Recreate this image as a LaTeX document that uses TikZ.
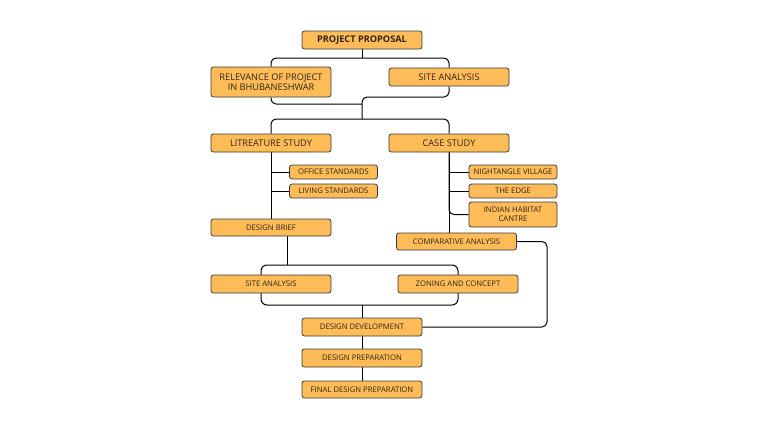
\documentclass[tikz,border=0pt]{standalone}
\usepackage{fontspec}
\setmainfont{Open Sans}
\usepackage{xcolor}
\usetikzlibrary{backgrounds}
\definecolor{boxfill}{HTML}{FEBC59}
\definecolor{boxline}{HTML}{3A3A3A}
\definecolor{boxtext}{HTML}{2E2618}
\newcommand\smalltext{\fontsize{7.7}{8.6}\selectfont}
\tikzset{
  stagebox/.style={rounded corners=2.5pt, draw=boxline, line width=0.8pt, fill=boxfill,
    text=boxtext, minimum width=120pt, minimum height=18pt, inner sep=1pt,
    align=center, font=\fontsize{9.2}{10.2}\selectfont},
  smallbox/.style={stagebox, font=\smalltext},
  subbox/.style={smallbox, minimum width=88pt, minimum height=14pt},
  link/.style={draw=black, line width=1pt, rounded corners=5pt}
}
\begin{document}
\begin{tikzpicture}[x=1pt, y=-1pt]
  \useasboundingbox (0,0) rectangle (768,431);

  % stages
  \node[stagebox, font=\fontsize{9.2}{10.2}\selectfont\bfseries] (proposal) at (362,40) {PROJECT PROPOSAL};
  \node[stagebox, minimum height=30pt] (relevance) at (271,82) {RELEVANCE OF PROJECT\\IN BHUBANESHWAR};
  \node[stagebox] (siteone) at (449,77) {SITE ANALYSIS};
  \node[stagebox] (literature) at (271,143) {LITREATURE STUDY};
  \node[stagebox] (casestudy) at (449,143) {CASE STUDY};

  \node[subbox] (office) at (333.5,172) {OFFICE STANDARDS};
  \node[subbox] (living) at (333.5,191) {LIVING STANDARDS};
  \node[subbox] (nightangle) at (513,172) {NIGHTANGLE VILLAGE};
  \node[subbox] (edge) at (513,191) {THE EDGE};
  \node[subbox, minimum height=25pt] (habitat) at (513,214.5) {INDIAN HABITAT\\CANTRE};

  \node[smallbox, minimum height=17pt] (brief) at (271,227.5) {DESIGN BRIEF};
  \node[smallbox, minimum height=17pt] (comparative) at (456.5,241.5) {COMPARATIVE ANALYSIS};
  \node[smallbox] (sitetwo) at (271,284) {SITE ANALYSIS};
  \node[smallbox] (zoning) at (458,284) {ZONING AND CONCEPT};
  \node[smallbox] (development) at (362,327) {DESIGN DEVELOPMENT};
  \node[smallbox] (preparation) at (362,358) {DESIGN PREPARATION};
  \node[smallbox, minimum height=17pt] (final) at (362,389.5) {FINAL DESIGN PREPARATION};

  % junctions
  \coordinate (splitone) at (362,58);
  \coordinate (joinleft) at (362,104);
  \coordinate (joinright) at (362,97);
  \coordinate (splittwo) at (362,119);
  \coordinate (briefdrop) at (287,265);
  \coordinate (bracketnw) at (261,265);
  \coordinate (bracketse) at (458,305);
  \coordinate (loopcorner) at (547,327);

  \begin{scope}[on background layer]
    \draw[link, rounded corners=6pt] (bracketnw) rectangle (bracketse);
    \draw[link] (proposal) -- (splitone);
    \draw[link] (relevance) |- (splitone) -| (siteone);
    \draw[link] (relevance) |- (joinleft);
    \draw[link] (siteone) |- (joinright) -- (splittwo);
    \draw[link] (literature) |- (splittwo) -| (casestudy);
    \draw[link] (literature) -- (brief);
    \draw[link] (casestudy) -- (casestudy |- comparative);
    \draw[link] (office) -- (office -| literature);
    \draw[link] (living) -- (living -| literature);
    \draw[link] (nightangle) -- (nightangle -| casestudy);
    \draw[link] (edge) -- (edge -| casestudy);
    \draw[link] (habitat) -| (casestudy);
    \draw[link] (briefdrop |- brief) -- (briefdrop);
    \draw[link] (development |- bracketse) -- (development) -- (preparation) -- (final);
    \draw[link] (comparative) -| (loopcorner) -- (development);
  \end{scope}
\end{tikzpicture}
\end{document}
